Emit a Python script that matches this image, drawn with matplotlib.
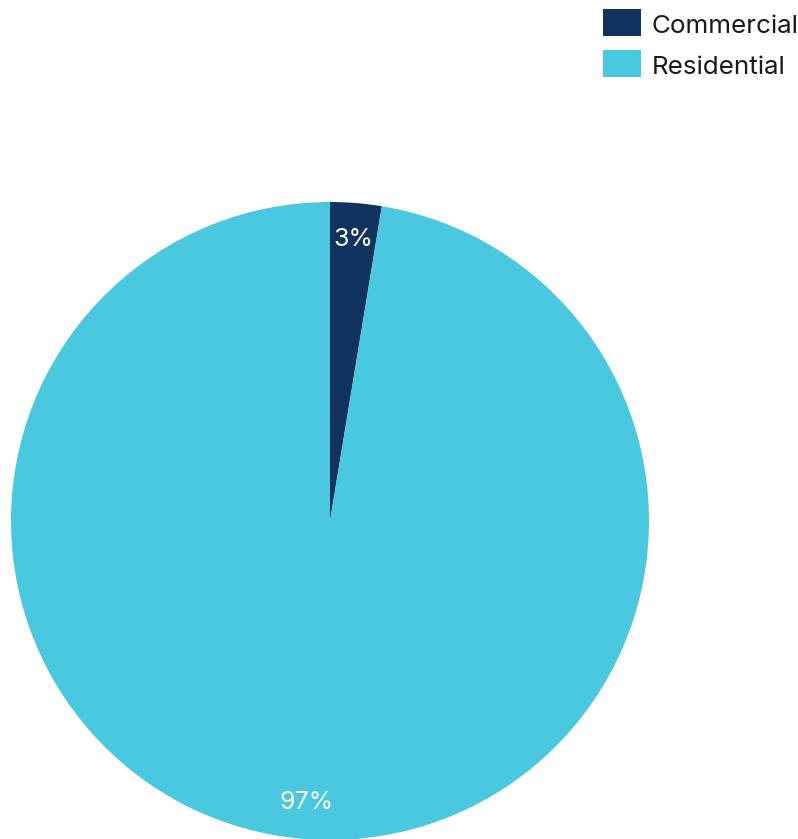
import matplotlib
matplotlib.use("Agg")
import matplotlib.pyplot as plt
from matplotlib.patches import Rectangle
from matplotlib.legend_handler import HandlerPatch

categories = ["Commercial", "Residential"]
values = [2.6, 97.4]
colors = ["#12335F", "#4AC8E0"]

plt.rcParams['font.family'] = ['Inter', 'DejaVu Sans']

fig = plt.figure(figsize=(7.98, 8.39), dpi=100)
W, H = 798, 839
cx, cy, r = 330, 521, 319
ax = fig.add_axes([(cx - r) / W, (H - cy - r) / H, 2 * r / W, 2 * r / H])
wedges, texts, autotexts = ax.pie(
    values, colors=colors, startangle=90, counterclock=False,
    autopct=lambda p: f"{p:.0f}%", pctdistance=0.885, radius=1,
    textprops=dict(color="white", fontsize=18),
    wedgeprops=dict(linewidth=0))
ax.set_xlim(-1, 1)
ax.set_ylim(-1, 1)
ax.set_aspect("equal")
ax.axis("off")


def square(legend, orig_handle, xdescent, ydescent, width, height, fontsize):
    # box from slightly below the text baseline up to about cap height
    return Rectangle((-xdescent, -2.5), width, 19.9)


leg = fig.legend(wedges, categories, loc="upper left",
                 bbox_to_anchor=(603 / W, 1 - 12 / H), frameon=False,
                 fontsize=18.7, handlelength=1.46, handleheight=1.04,
                 handletextpad=0.42, labelspacing=0.58, borderaxespad=0,
                 borderpad=0,
                 handler_map={w: HandlerPatch(patch_func=square) for w in wedges})
for t in leg.get_texts():
    t.set_color("#1a1a1a")

fig.savefig("out.png", dpi=100)
